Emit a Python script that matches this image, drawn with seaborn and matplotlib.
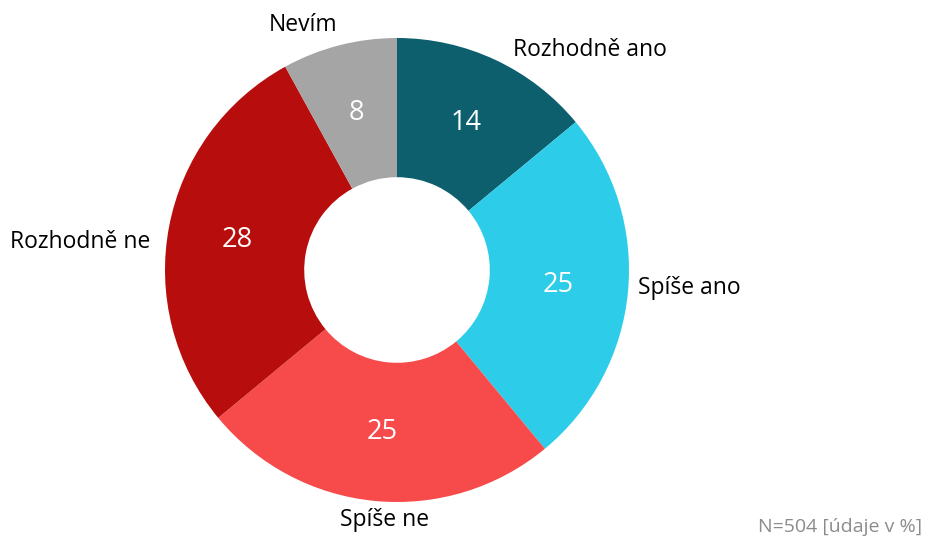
import numpy as np
import matplotlib.pyplot as plt
import seaborn as sns

sns.set_theme(style='white')
plt.rcParams['font.family'] = ['Open Sans', 'DejaVu Sans']

# data
categories = ['Rozhodně ano', 'Spíše ano', 'Spíše ne', 'Rozhodně ne', 'Nevím']
values = [14, 25, 25, 28, 8]
colors = ['#0E5F6E', '#2DCDEA', '#F74B4B', '#B80D0D', '#A5A5A5']
note = 'N=504 [údaje v %]'

fig = plt.figure(figsize=(9.26, 5.38), dpi=100)
# axes box so the ring sits where it does in the reference
ax = fig.add_axes([165 / 926, 36 / 538, 464 / 926, 464 / 538])

wedges, texts, autotexts = ax.pie(values, colors=colors, startangle=90, counterclock=False,
                                  radius=1, wedgeprops=dict(width=0.6, linewidth=0),
                                  autopct=lambda p: '{:.0f}'.format(p), pctdistance=0.7,
                                  textprops=dict(color='white', fontsize=19.5))
ax.set_xlim(-1, 1)
ax.set_ylim(-1, 1)
ax.set_aspect('equal')

# category labels placed outside the ring (hand tuned like in the original)
label_pos = {
    'Rozhodně ano': (0.50, 0.948, 'left'),
    'Spíše ano': (1.039, -0.078, 'left'),
    'Spíše ne': (-0.052, -1.078, 'center'),
    'Rozhodně ne': (-1.065, 0.121, 'right'),
    'Nevím': (-0.405, 1.056, 'center'),
}
for cat in categories:
    x, y, ha = label_pos[cat]
    ax.text(x, y, cat, ha=ha, va='center', fontsize=16.5, color='black', clip_on=False)

fig.text(922 / 926, 1 - 527 / 538, note, ha='right', va='center', fontsize=14, color='#8C8C8C')

plt.savefig('out.png', dpi=100)
